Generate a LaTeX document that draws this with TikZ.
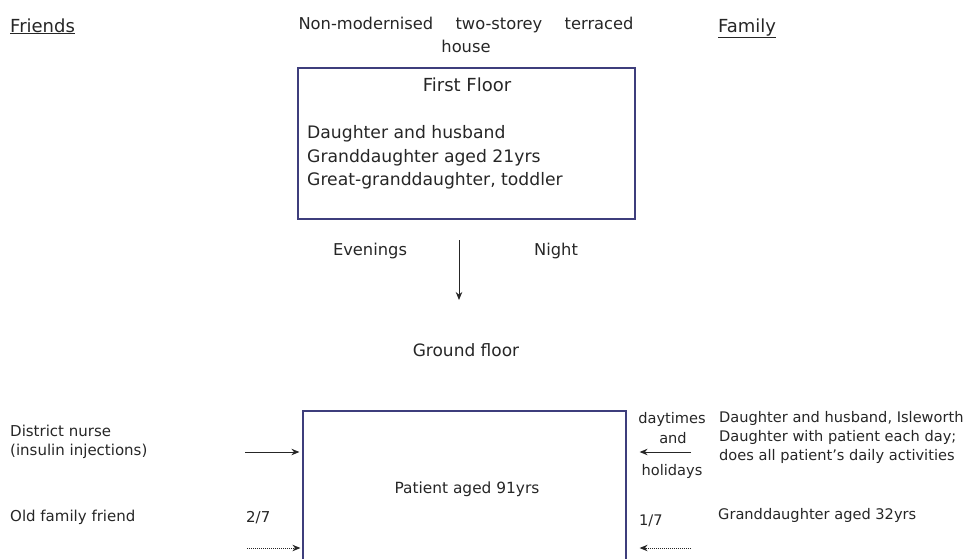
\documentclass[tikz,border=0pt]{standalone}
\usepackage{fontspec}
\setmainfont{DejaVu Sans}
\usetikzlibrary{arrows.meta,calc}
\definecolor{boxline}{HTML}{3E3E7C}
\definecolor{ink}{HTML}{262626}
\begin{document}
\begin{tikzpicture}[x=1pt,y=-1pt,
  lbl/.style={inner sep=0pt, text=ink, font=\fontsize{15}{18}\selectfont},
  famtxt/.style={inner sep=0pt, text=ink, font=\fontsize{14.6}{18}\selectfont},
  boxtxt/.style={inner sep=0pt, text=ink, font=\fontsize{17.2}{20}\selectfont},
  head/.style={inner sep=0pt, text=ink, font=\fontsize{16.3}{19}\selectfont},
  colhead/.style={inner sep=0pt, text=ink, font=\fontsize{18}{21}\selectfont},
  room/.style={draw=boxline, line width=1.2pt, inner sep=0pt},
  flow/.style={draw=ink, line width=1pt, -{Stealth[length=8pt,width=6.5pt]}},
  dotflow/.style={flow, densely dotted}]
\useasboundingbox (0,0) rectangle (966,558);
\clip (0,0) rectangle (966,558);

% column headings
\node[colhead, anchor=base west] (friends) at (10,32) {\underline{Friends}};
\node[colhead, anchor=base west] (family) at (718,32) {\underline{Family}};
\node[head, anchor=base] (house1) at (466,29) {\makebox[335pt][s]{Non-modernised two-storey terraced}};
\node[head, anchor=base] (house2) at (466,52) {house};

% first floor
\node[room, minimum width=337pt, minimum height=151pt] (firstfloor) at (466.5,143.5) {};
\node[colhead, anchor=base] (fftitle) at (467,91) {First Floor};
\node[boxtxt, anchor=base west] (ff1) at (307,138) {Daughter and husband};
\node[boxtxt, anchor=base west] (ff2) at (307,162) {Granddaughter aged 21yrs};
\node[boxtxt, anchor=base west] (ff3) at (307,185) {Great-granddaughter, toddler};

\node[head, anchor=base] (evenings) at (370,255) {Evenings};
\node[head, anchor=base] (night) at (556,255) {Night};
\coordinate (downtop) at (459,240);
\coordinate (downend) at (459,300);
\draw[flow] (downtop) -- (downend);

\node[head, font=\fontsize{17}{20}\selectfont, anchor=base] (ground) at (466,356) {Ground floor};

% ground floor
\node[room, minimum width=323pt, minimum height=220pt] (patient) at (464.5,521) {};
\node[lbl, font=\fontsize{15.4}{18}\selectfont, anchor=base] (ptxt) at (467,493) {Patient aged 91yrs};

% friends side
\node[lbl, anchor=base west] (nurse1) at (10,436) {District nurse};
\node[lbl, anchor=base west] (nurse2) at (10,455) {(insulin injections)};
\node[lbl, anchor=base west] (friend) at (10,521) {Old family friend};
\node[lbl, anchor=base west] (twoseven) at (246,522) {2/7};
\coordinate (nursefrom) at (245,452);
\coordinate (friendfrom) at (247,548);
\draw[flow, shorten >=3pt] (nursefrom) -- (nursefrom -| patient.west);
\draw[dotflow, shorten >=2pt] (friendfrom) -- (friendfrom -| patient.west);

% family side
\node[famtxt, anchor=base] (day1) at (672,423) {daytimes};
\node[famtxt, anchor=base] (day2) at (673,443) {and};
\node[famtxt, anchor=base] (day3) at (672,475) {holidays};
\node[famtxt, anchor=base west] (fam1) at (719,422) {Daughter and husband, Isleworth};
\node[famtxt, anchor=base west] (fam2) at (719,441) {Daughter with patient each day;};
\node[famtxt, anchor=base west] (fam3) at (719,460) {does all patient’s daily activities};
\node[famtxt, anchor=base west] (oneseven) at (639,525) {1/7};
\node[famtxt, anchor=base west] (gd) at (718,519) {Granddaughter aged 32yrs};
\coordinate (daughterfrom) at (691,452);
\coordinate (gdfrom) at (691,548);
\draw[flow, shorten >=13pt] (daughterfrom) -- (daughterfrom -| patient.east);
\draw[dotflow, shorten >=13pt] (gdfrom) -- (gdfrom -| patient.east);
\end{tikzpicture}
\end{document}
